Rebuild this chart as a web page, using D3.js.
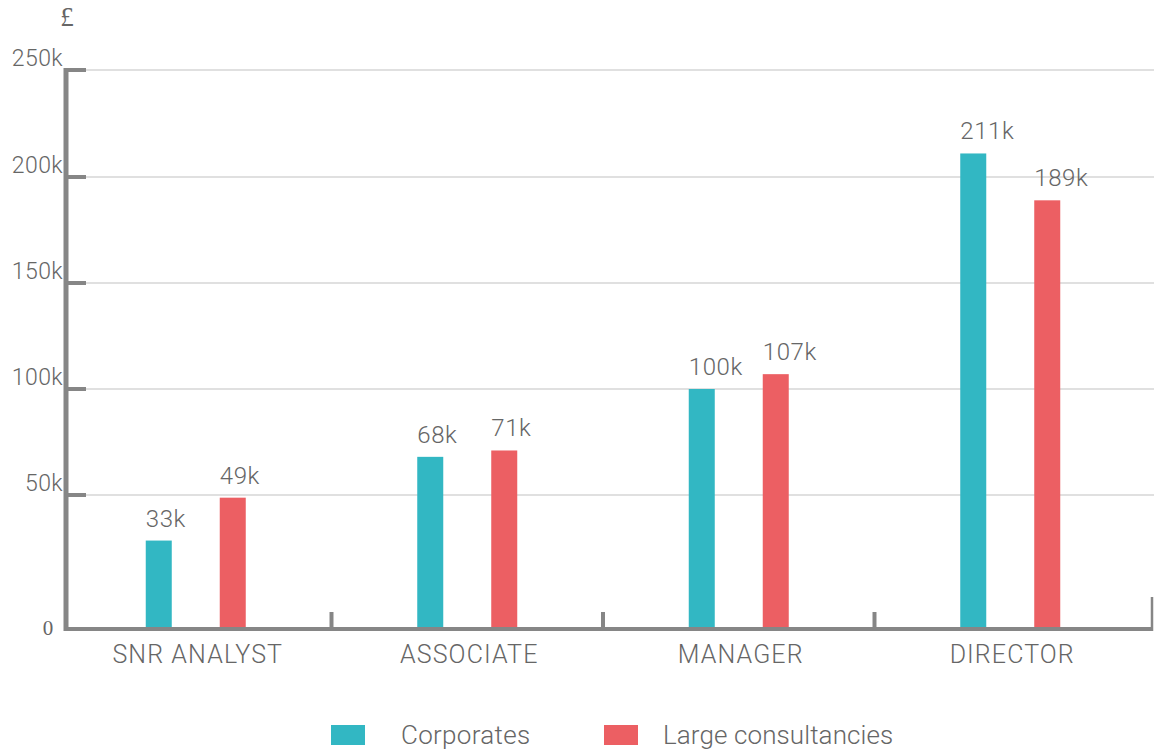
<!DOCTYPE html>
<html><head><meta charset="utf-8">
<script src="https://cdn.jsdelivr.net/npm/d3@7"></script>
<style>
html,body{margin:0;padding:0;background:#fff;}
svg{display:block;}
text{font-family:Roboto,"Liberation Sans",sans-serif;font-weight:300;fill:#666;}
.serif{font-family:"Liberation Serif","DejaVu Serif",serif;font-weight:400;}
</style></head>
<body>
<svg id="chart" width="1154" height="752"></svg>
<script>
const categories = ["SNR ANALYST","ASSOCIATE","MANAGER","DIRECTOR"];
const series = ["Corporates","Large consultancies"];
const corporates = [33,68,100,211];
const consultancies = [49,71,107,189];
const yTicks = [50,100,150,200,250];
const yTickLabels = ["50k","100k","150k","200k","250k"];
const colors = ["#32b7c3","#ec5f63"];

const svg = d3.select("#chart");
const axisColor = "#868686";
const x0 = 66, yBase = 629, xEnd = 1152;

// y scale (piecewise, as in the original graphic)
const y = d3.scaleLinear().domain([0,50,100,150,200,250]).range([yBase,495,389,283,177,70]);
const x = d3.scaleBand().domain(categories).range([60,1146]);
const xs = d3.scaleBand().domain(series).range([-50,50]).paddingInner(0.6486);
const cx = c => x(c)+x.bandwidth()/2;

// gridlines
svg.append("g").selectAll("line").data(yTicks).join("line")
  .attr("x1",85).attr("x2",1154)
  .attr("y1",d=>y(d)).attr("y2",d=>y(d))
  .attr("stroke","#d6d6d6").attr("stroke-width",1.5);

// y axis tick marks
svg.append("g").selectAll("line").data(yTicks).join("line")
  .attr("x1",x0).attr("x2",86)
  .attr("y1",d=>y(d)).attr("y2",d=>y(d))
  .attr("stroke",axisColor).attr("stroke-width",4);

// y axis tick labels
svg.append("g").selectAll("text").data(yTicks).join("text")
  .attr("x",63).attr("y",d=>y(d)-4)
  .attr("text-anchor","end").attr("font-size",23)
  .attr("letter-spacing","0.4")
  .text((d,i)=>yTickLabels[i]);

svg.append("text").attr("class","serif").attr("x",48).attr("y",y(0)+6)
  .attr("text-anchor","middle").attr("font-size",21).text("0");
svg.append("text").attr("class","serif").attr("x",67).attr("y",26)
  .attr("text-anchor","middle").attr("font-size",27).text("£");

// bars
const rows = categories.map((c,i)=>({cat:c, vals:[corporates[i],consultancies[i]]}));
const g = svg.append("g").selectAll("g").data(rows).join("g")
  .attr("transform",d=>`translate(${cx(d.cat)},0)`);
g.selectAll("rect").data(d=>d.vals.map((v,j)=>({s:series[j],v,j}))).join("rect")
  .attr("x",d=>xs(d.s)).attr("width",xs.bandwidth())
  .attr("y",d=>y(d.v)).attr("height",d=>yBase-y(d.v))
  .attr("fill",d=>colors[d.j]);
g.selectAll("text.val").data(d=>d.vals.map((v,j)=>({s:series[j],v,j}))).join("text")
  .attr("class","val")
  .attr("x",d=>xs(d.s)).attr("y",d=>y(d.v)-14)
  .attr("text-anchor","start").attr("font-size",24)
  .attr("letter-spacing","0.6")
  .text(d=>d.v+"k");

// axes lines
svg.append("line").attr("x1",x0).attr("x2",x0).attr("y1",68).attr("y2",yBase+2)
  .attr("stroke",axisColor).attr("stroke-width",5);
svg.append("line").attr("x1",x0-2).attr("x2",xEnd-1).attr("y1",yBase).attr("y2",yBase)
  .attr("stroke",axisColor).attr("stroke-width",4);

// x boundary ticks (midway between category groups) and end tick
const bounds = categories.slice(1).map((c,i)=>(cx(categories[i])+cx(c))/2);
svg.append("g").selectAll("line").data(bounds).join("line")
  .attr("x1",d=>d).attr("x2",d=>d)
  .attr("y1",yBase-17).attr("y2",yBase+2)
  .attr("stroke",axisColor).attr("stroke-width",4);
svg.append("line").attr("x1",xEnd).attr("x2",xEnd).attr("y1",597).attr("y2",yBase+2)
  .attr("stroke",axisColor).attr("stroke-width",2.5);

// category labels
svg.append("g").selectAll("text").data(categories).join("text")
  .attr("x",d=>cx(d)+2).attr("y",663)
  .attr("text-anchor","middle").attr("font-size",25)
  .attr("letter-spacing","1.1")
  .text(d=>d);

// legend
const legRectX = [331,604];
const legTextX = [401,663];
const lg = svg.append("g").selectAll("g").data(series).join("g");
lg.append("rect").attr("x",(d,i)=>legRectX[i]).attr("y",725)
  .attr("width",34).attr("height",20).attr("fill",(d,i)=>colors[i]);
lg.append("text").attr("x",(d,i)=>legTextX[i]).attr("y",744).attr("font-size",26)
  .attr("letter-spacing",(d,i)=>i===0?"0.3":"0.1").text(d=>d);
</script>
</body></html>
